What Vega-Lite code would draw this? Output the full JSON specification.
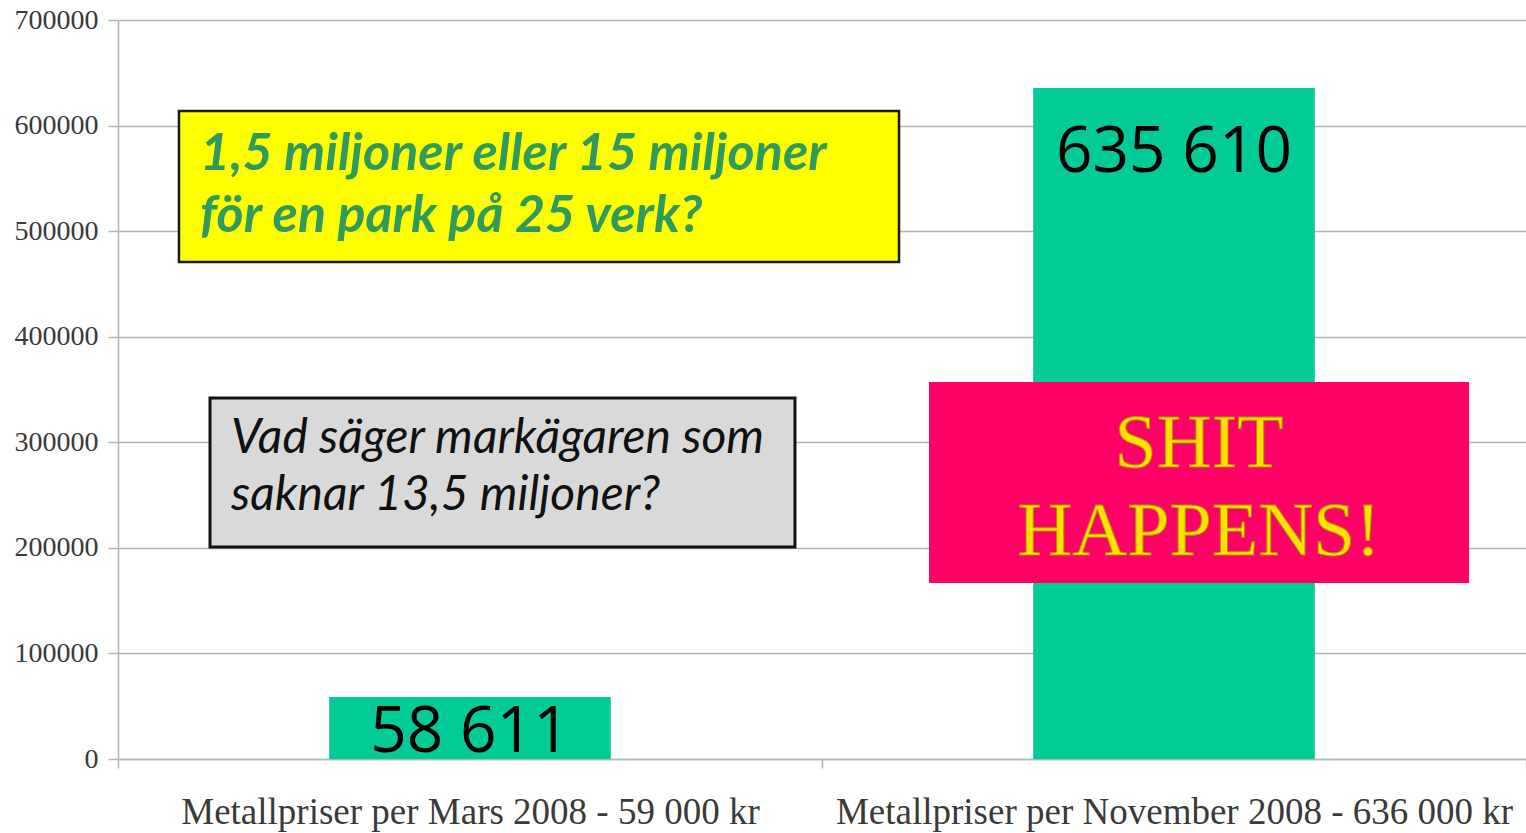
{
  "$schema": "https://vega.github.io/schema/vega-lite/v6.json",
  "autosize": "none",
  "width": 1408,
  "height": 739,
  "padding": {"left": 118, "top": 20, "right": 0, "bottom": 74},
  "background": "white",
  "config": {
    "view": {"stroke": null},
    "axis": {"gridColor": "#b5b5b5", "gridWidth": 1.5, "domainColor": "#b5b5b5", "domainWidth": 1.5, "tickColor": "#b5b5b5", "tickWidth": 1.5}
  },
  "datasets": {
    "staplar": [
      {"kategori": "Metallpriser per Mars 2008 - 59 000 kr", "varde": 58611, "etikett": "58 611"},
      {"kategori": "Metallpriser per November 2008 - 636 000 kr", "varde": 635610, "etikett": "635 610"}
    ],
    "rutor": [
      {"ruta": "fraga", "x1": 0.0866, "x2": 1.1094, "y1": 613800, "y2": 470800},
      {"ruta": "markagare", "x1": 0.1307, "x2": 0.9616, "y1": 342000, "y2": 200800},
      {"ruta": "shit", "x1": 1.152, "x2": 1.919, "y1": 357100, "y2": 166700}
    ],
    "rader": [
      {"ruta": "fraga", "x": 0.1165, "y": 557900, "text": "1,5 miljoner eller 15 miljoner"},
      {"ruta": "fraga", "x": 0.1165, "y": 499200, "text": "för en park på 25 verk?"},
      {"ruta": "markagare", "x": 0.1605, "y": 289900, "text": "Vad säger markägaren som"},
      {"ruta": "markagare", "x": 0.1605, "y": 235900, "text": "saknar  13,5 miljoner?"},
      {"ruta": "shit", "x": 1.5355, "y": 276600, "text": "SHIT"},
      {"ruta": "shit", "x": 1.5355, "y": 193200, "text": "HAPPENS!"}
    ]
  },
  "resolve": {"scale": {"x": "independent"}},
  "layer": [
    {
      "data": {"name": "staplar"},
      "layer": [
        {
          "mark": {"type": "bar", "color": "#02CB98", "width": {"band": 0.4}},
          "encoding": {
            "x": {
              "field": "kategori", "type": "nominal", "sort": null,
              "scale": {"paddingInner": 0, "paddingOuter": 0},
              "axis": {"title": null, "labelAngle": 0, "tickBand": "extent", "tickSize": 9, "labelFont": "Liberation Serif", "labelFontSize": 37, "labelColor": "#3a3a3a", "labelPadding": 26, "labelLimit": 0, "grid": false, "domain": true}
            },
            "y": {
              "field": "varde", "type": "quantitative",
              "scale": {"domain": [0, 700000], "nice": false},
              "axis": {"title": null, "values": [0, 100000, 200000, 300000, 400000, 500000, 600000, 700000], "format": "d", "tickSize": 10, "labelFont": "Liberation Serif", "labelFontSize": 28, "labelColor": "#3a3a3a", "labelPadding": 10, "grid": true}
            }
          }
        },
        {
          "transform": [{"filter": "datum.varde < 100000"}],
          "mark": {"type": "text", "font": "Open Sans", "fontSize": 64, "color": "#000000", "baseline": "alphabetic", "align": "center", "dy": 55},
          "encoding": {
            "x": {"field": "kategori", "type": "nominal", "sort": null},
            "y": {"field": "varde", "type": "quantitative"},
            "text": {"field": "etikett"}
          }
        },
        {
          "transform": [{"filter": "datum.varde >= 100000"}],
          "mark": {"type": "text", "font": "Open Sans", "fontSize": 64, "color": "#000000", "baseline": "alphabetic", "align": "center", "dy": 84},
          "encoding": {
            "x": {"field": "kategori", "type": "nominal", "sort": null},
            "y": {"field": "varde", "type": "quantitative"},
            "text": {"field": "etikett"}
          }
        }
      ]
    },
    {
      "layer": [
        {
          "data": {"name": "rutor"},
          "transform": [{"filter": "datum.ruta == 'fraga'"}],
          "mark": {"type": "rect", "fill": "#FFFF00", "stroke": "#1a1a1a", "strokeWidth": 2.5},
          "encoding": {
            "x": {"field": "x1", "type": "quantitative", "scale": {"domain": [0, 2], "nice": false, "zero": false}, "axis": null},
            "x2": {"field": "x2"},
            "y": {"field": "y1", "type": "quantitative"},
            "y2": {"field": "y2"}
          }
        },
        {
          "data": {"name": "rutor"},
          "transform": [{"filter": "datum.ruta == 'markagare'"}],
          "mark": {"type": "rect", "fill": "#D9D9D9", "stroke": "#111111", "strokeWidth": 3},
          "encoding": {
            "x": {"field": "x1", "type": "quantitative"},
            "x2": {"field": "x2"},
            "y": {"field": "y1", "type": "quantitative"},
            "y2": {"field": "y2"}
          }
        },
        {
          "data": {"name": "rutor"},
          "transform": [{"filter": "datum.ruta == 'shit'"}],
          "mark": {"type": "rect", "fill": "#FF0066"},
          "encoding": {
            "x": {"field": "x1", "type": "quantitative"},
            "x2": {"field": "x2"},
            "y": {"field": "y1", "type": "quantitative"},
            "y2": {"field": "y2"}
          }
        },
        {
          "data": {"name": "rader"},
          "transform": [{"filter": "datum.ruta == 'fraga'"}],
          "mark": {"type": "text", "font": "Lato", "fontSize": 52, "fontStyle": "italic", "fontWeight": "bold", "color": "#2E9A5E", "align": "left", "baseline": "alphabetic"},
          "encoding": {
            "x": {"field": "x", "type": "quantitative"},
            "y": {"field": "y", "type": "quantitative"},
            "text": {"field": "text"}
          }
        },
        {
          "data": {"name": "rader"},
          "transform": [{"filter": "datum.ruta == 'markagare'"}],
          "mark": {"type": "text", "font": "Lato", "fontSize": 48, "fontStyle": "italic", "color": "#111111", "align": "left", "baseline": "alphabetic"},
          "encoding": {
            "x": {"field": "x", "type": "quantitative"},
            "y": {"field": "y", "type": "quantitative"},
            "text": {"field": "text"}
          }
        },
        {
          "data": {"name": "rader"},
          "transform": [{"filter": "datum.ruta == 'shit'"}],
          "mark": {"type": "text", "font": "Liberation Serif", "fontSize": 76, "fill": "#FFE000", "stroke": "#A89400", "strokeWidth": 1, "align": "center", "baseline": "alphabetic"},
          "encoding": {
            "x": {"field": "x", "type": "quantitative"},
            "y": {"field": "y", "type": "quantitative"},
            "text": {"field": "text"}
          }
        }
      ]
    }
  ]
}
